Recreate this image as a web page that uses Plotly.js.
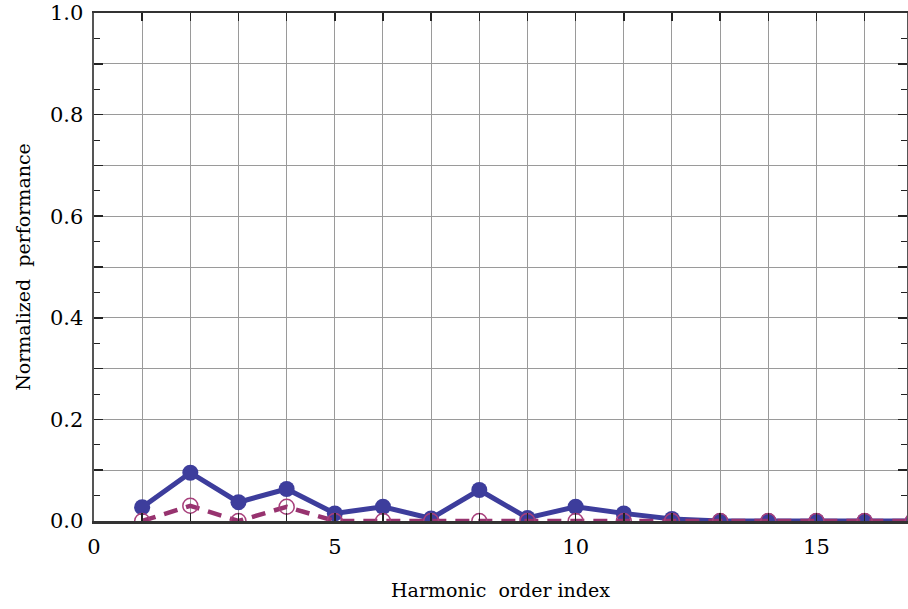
<!DOCTYPE html>
<html>
<head>
<meta charset="utf-8">
<script src="https://cdn.plot.ly/plotly-3.0.1.min.js"></script>
<style>
  html, body { margin: 0; padding: 0; background: #ffffff; }
  #chart { width: 908px; height: 609px; }
</style>
</head>
<body>
<div id="chart"></div>
<script>
// Harmonic order index
const harmonicOrder = [1, 2, 3, 4, 5, 6, 7, 8, 9, 10, 11, 12, 13, 14, 15, 16, 17];
// Solid series (filled markers)
const seriesSolid = [0.027, 0.095, 0.037, 0.063, 0.015, 0.028, 0.005, 0.061, 0.006, 0.028, 0.015, 0.004, 0, 0, 0, 0, 0];
// Dashed series (open markers)
const seriesDashed = [0, 0.030, 0, 0.028, 0, 0, 0, 0, 0, 0, 0, 0, 0, 0, 0, 0, 0];

// Axis tick positions and labels
const xTickVals = [0, 1, 2, 3, 4, 5, 6, 7, 8, 9, 10, 11, 12, 13, 14, 15, 16, 17];
const xTickText = ['0', '', '', '', '', '5', '', '', '', '', '10', '', '', '', '', '15', '', ''];
const yTickVals = [0, 0.1, 0.2, 0.3, 0.4, 0.5, 0.6, 0.7, 0.8, 0.9, 1.0];
const yTickText = ['0.0', '', '0.2', '', '0.4', '', '0.6', '', '0.8', '', '1.0'];

const serif = 'DejaVu Serif';

const traces = [
  {
    x: harmonicOrder,
    y: seriesSolid,
    type: 'scatter',
    mode: 'lines+markers',
    line: { color: '#3d3d9c', width: 5 },
    marker: { color: '#3d3d9c', size: 16, symbol: 'circle' },
    cliponaxis: true,
    showlegend: false
  },
  {
    x: harmonicOrder,
    y: seriesDashed,
    type: 'scatter',
    mode: 'lines+markers',
    line: { color: '#97336f', width: 4.5, dash: '14px,9px' },
    marker: { color: '#a8407c', size: 15, symbol: 'circle-open', line: { width: 1.5, color: '#a8407c' } },
    cliponaxis: true,
    showlegend: false
  }
];

const layout = {
  width: 908,
  height: 609,
  margin: { l: 93.5, r: 1, t: 13, b: 88 },
  paper_bgcolor: '#ffffff',
  plot_bgcolor: '#ffffff',
  font: { family: serif, size: 20, color: '#000000' },
  xaxis: {
    range: [0, 16.88],
    tickmode: 'array',
    tickvals: xTickVals,
    ticktext: xTickText,
    ticks: 'inside',
    ticklen: 8,
    tickwidth: 1.5,
    tickcolor: '#222222',
    showgrid: true,
    gridcolor: '#9a9a9a',
    gridwidth: 1,
    zeroline: false,
    showline: true,
    linecolor: '#333333',
    linewidth: 2.5,
    mirror: 'ticks',
    ticklabelstandoff: 5,
    tickfont: { family: serif, size: 21, color: '#000000' },
    title: { text: 'Harmonic\u00a0 order index', font: { family: serif, size: 19, color: '#000000' }, standoff: 26 }
  },
  yaxis: {
    range: [0, 1.0],
    tickmode: 'array',
    tickvals: yTickVals,
    ticktext: yTickText,
    ticks: 'inside',
    ticklen: 9,
    tickwidth: 1.5,
    tickcolor: '#222222',
    showgrid: true,
    gridcolor: '#9a9a9a',
    gridwidth: 1,
    zeroline: false,
    showline: true,
    linecolor: '#555555',
    linewidth: 2.5,
    mirror: 'ticks',
    ticklabelstandoff: 4,
    minor: { dtick: 0.05, tick0: 0, ticks: 'inside', ticklen: 6, tickwidth: 1, tickcolor: '#222222', showgrid: false },
    tickfont: { family: serif, size: 21, color: '#000000' },
    title: { text: 'Normalized\u00a0 performance', font: { family: serif, size: 19, color: '#000000' }, standoff: 14 }
  }
};

Plotly.newPlot('chart', traces, layout, { displayModeBar: false, staticPlot: true });
</script>
</body>
</html>
